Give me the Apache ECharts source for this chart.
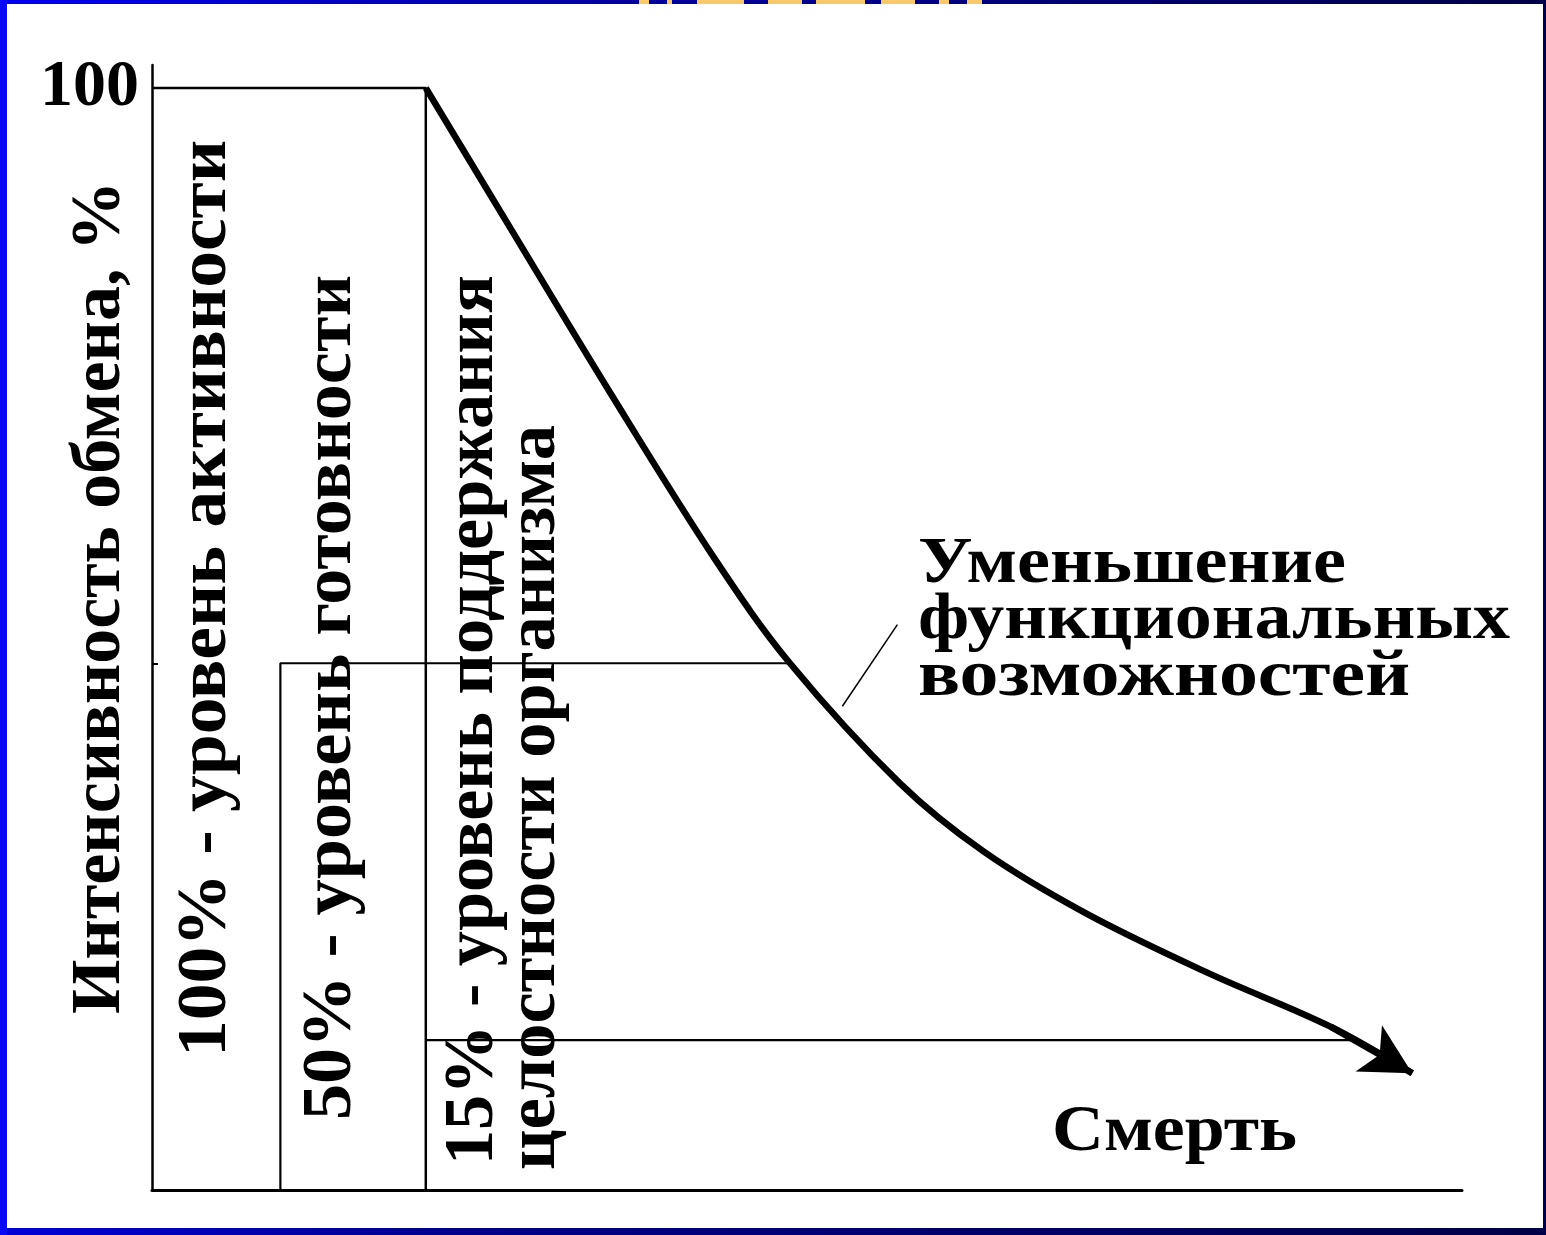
<!DOCTYPE html>
<html>
<head>
<meta charset="utf-8">
<script src="https://cdn.jsdelivr.net/npm/echarts@6/dist/echarts.min.js"></script>
<style>
html,body{margin:0;padding:0;background:#fff;}
#chart{width:1546px;height:1235px;}
</style>
</head>
<body>
<div id="chart"></div>
<script>
// ---------- data ----------
const yAxisName = 'Интенсивность обмена, %';
const yTickLabels = [100];
// decline curve (x in arbitrary time units 0..100, y in %)
const curveX = [20.9, 27.3, 35.0, 43.0, 48.7, 57.1, 63.5, 71.3, 80.6, 90.0, 96.2];
const curveY = [100, 87.4, 72.3, 57.2, 47.8, 36.9, 30.7, 25.1, 19.7, 14.8, 10.6];
// level boxes
const levelLabels = ['100% - уровень активности', '50% - уровень готовности', '15% - уровень поддержания'];
const levelSubLabel = 'целостности организма';
const levelY = [100, 47.8, 13.6];
const levelLeftX = [0, 9.8, 20.9];
const levelRightX = [20.9, 48.7, 91.5];
// annotation leader line
const leaderX = [56.9, 52.7];
const leaderY = [51.3, 43.9];
const curveLabel = ['Уменьшение', 'функциональных', 'возможностей'];
const endLabel = 'Смерть';

// ---------- build ----------
const FONT = 'Liberation Serif';
const FS = 66;
const STRETCH = 1.06;
const mctx = document.createElement('canvas').getContext('2d');
function textWidth(t, size) {
  mctx.font = 'bold ' + size + 'px "' + FONT + '"';
  return mctx.measureText(t).width;
}

const curveData = curveX.map((x, i) => [x, curveY[i]]);
const n = curveData.length;

const blackLine = (w) => ({ color: '#000', width: w });

const series = [
  {
    type: 'line', name: 'level100',
    data: [[levelLeftX[0], levelY[0]], [levelRightX[0], levelY[0]], [levelRightX[0], 0]],
    showSymbol: false, symbol: 'none', lineStyle: blackLine(2.5), z: 3, silent: true
  },
  {
    type: 'line', name: 'level50',
    data: [[levelRightX[1], levelY[1]], [levelLeftX[1], levelY[1]], [levelLeftX[1], 0]],
    showSymbol: false, symbol: 'none', lineStyle: blackLine(2.2), z: 3, silent: true
  },
  {
    type: 'line', name: 'level15',
    data: [[levelLeftX[2], levelY[2]], [levelRightX[2], levelY[2]]],
    showSymbol: false, symbol: 'none', lineStyle: blackLine(2.2), z: 3, silent: true
  },
  {
    type: 'line', name: 'leader',
    data: [[leaderX[0], leaderY[0]], [leaderX[1], leaderY[1]]],
    showSymbol: false, symbol: 'none', lineStyle: blackLine(1.5), z: 3, silent: true
  },
  {
    type: 'line', name: 'decline',
    data: curveData,
    smooth: 0.35,
    showSymbol: false, symbol: 'none',
    lineStyle: blackLine(6.5), z: 5, silent: true,
    markLine: {
      silent: true,
      animation: false,
      symbol: ['none', 'arrow'],
      symbolSize: [40, 50],
      lineStyle: { color: '#000', width: 6.5, type: 'solid' },
      itemStyle: { color: '#000' },
      label: { show: false },
      data: [[{ coord: curveData[n - 2] }, { coord: curveData[n - 1] }]]
    }
  }
];

const chart = echarts.init(document.getElementById('chart'), null, { renderer: 'canvas' });

function vText(str, baseX, startY, target) {
  const w = textWidth(str, FS);
  return {
    type: 'text',
    x: baseX + 0.2 * FS * STRETCH,
    y: startY,
    rotation: Math.PI / 2,
    scaleX: target / w,
    scaleY: STRETCH,
    z: 50,
    style: {
      text: str, fill: '#000',
      font: 'bold ' + FS + 'px "' + FONT + '"',
      align: 'left', verticalAlign: 'bottom',
      textAlign: 'left', textVerticalAlign: 'bottom'
    }
  };
}
function hText(str, x, baseY, target) {
  const w = textWidth(str, FS);
  return {
    type: 'text',
    x: x,
    y: baseY + 0.2 * FS,
    scaleX: target / w,
    scaleY: 1,
    z: 50,
    style: {
      text: str, fill: '#000',
      font: 'bold ' + FS + 'px "' + FONT + '"',
      align: 'left', verticalAlign: 'bottom',
      textAlign: 'left', textVerticalAlign: 'bottom'
    }
  };
}

const yellowBits = [[639, 10], [667, 5], [697, 47], [768, 34], [816, 49], [881, 34], [939, 10], [967, 15]];

const graphic = [
  vText(levelLabels[0], 228, 1057, 917),
  vText(levelLabels[1], 353, 1120, 845),
  vText(levelLabels[2], 495, 1165, 890),
  vText(levelSubLabel, 557, 1170, 745),
  hText(curveLabel[0], 918, 585, 428),
  hText(curveLabel[1], 918, 641, 592),
  hText(curveLabel[2], 918, 698, 492),
  hText(endLabel, 1052, 1153, 245),
  // frame
  { type: 'rect', z: 100, shape: { x: 0, y: 0, width: 1546, height: 4 },
    style: { fill: new echarts.graphic.LinearGradient(0, 0, 1, 0, [
      { offset: 0, color: '#0000f0' }, { offset: 0.35, color: '#0000a8' }, { offset: 1, color: '#000048' }]) } },
  { type: 'rect', z: 100, shape: { x: 0, y: 1228, width: 1546, height: 7 },
    style: { fill: new echarts.graphic.LinearGradient(0, 0, 1, 0, [
      { offset: 0, color: '#0000d8' }, { offset: 0.3, color: '#00008a' }, { offset: 1, color: '#000048' }]) } },
  { type: 'rect', z: 101, shape: { x: 0, y: 0, width: 7, height: 1235 }, style: { fill: '#0808f4' } },
  { type: 'rect', z: 101, shape: { x: 1543, y: 0, width: 3, height: 1235 }, style: { fill: '#00004a' } }
].concat(yellowBits.map(b => ({
  type: 'rect', z: 102, shape: { x: b[0], y: 0, width: b[1], height: 4 }, style: { fill: '#f8c86a' }
})));

const nameW = textWidth(yAxisName, FS);
const nameFS = Math.round(FS * 835 / nameW);

chart.setOption({
  animation: false,
  backgroundColor: '#ffffff',
  grid: { left: 152, right: 84, top: 65, bottom: 45, containLabel: false, outerBoundsMode: 'none' },
  xAxis: {
    type: 'value', min: 0, max: 100,
    axisLine: { show: true, onZero: false, lineStyle: { color: '#000', width: 3 } },
    axisTick: { show: false }, axisLabel: { show: false }, splitLine: { show: false }
  },
  yAxis: {
    type: 'value', min: 0, max: 102.09,
    name: yAxisName,
    nameLocation: 'middle',
    nameRotate: 90,
    nameGap: 16,
    nameMoveOverlap: false,
    nameTextStyle: {
      fontFamily: FONT, fontWeight: 'bold', fontSize: nameFS, color: '#000',
      padding: [0, 0, 0, 60]
    },
    axisLine: { show: true, onZero: false, lineStyle: { color: '#000', width: 2.5 } },
    axisTick: { show: true, inside: true, length: 6, customValues: [levelY[1]], lineStyle: { color: '#000', width: 2 } },
    axisLabel: {
      show: true, customValues: yTickLabels, margin: 13,
      fontFamily: FONT, fontWeight: 'bold', fontSize: 66, color: '#000',
      padding: [0, 0, 10, 0]
    },
    splitLine: { show: false }
  },
  series: series,
  graphic: graphic
});
</script>
</body>
</html>
